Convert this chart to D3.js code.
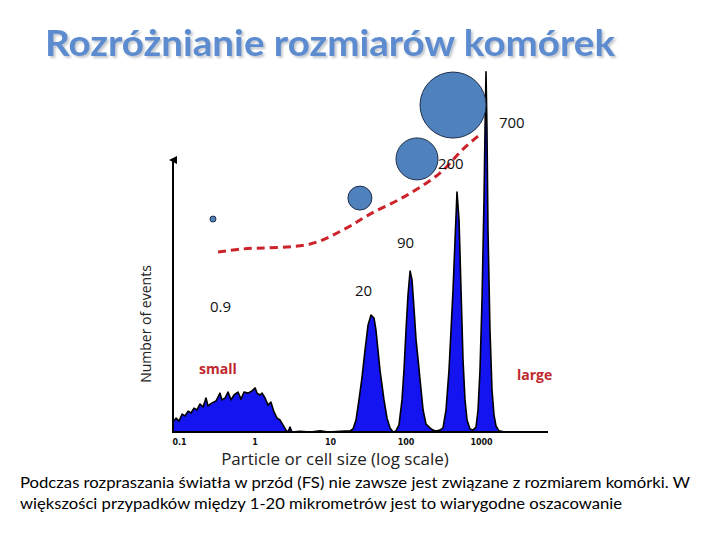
<!DOCTYPE html>
<html>
<head>
<meta charset="utf-8">
<script src="https://cdn.jsdelivr.net/npm/d3@7"></script>
<style>
  body { margin: 0; background: #fff; }
  svg { display: block; }
</style>
</head>
<body>
<svg></svg>
<script>
const width = 720, height = 540;

// histogram outline: particle size (log axis) and number of events
const sizes = [0.0833, 0.0913, 0.1, 0.11, 0.12, 0.132, 0.144, 0.158, 0.173, 0.19, 0.208, 0.228, 0.242,
  0.274, 0.309, 0.349, 0.371, 0.407, 0.446, 0.488, 0.535, 0.604, 0.663, 0.726, 0.82, 0.926, 1.02,
  1.08, 1.18, 1.26, 1.38, 1.51, 1.65, 1.81, 1.99, 2.18, 2.38, 2.61, 2.78, 2.95, 3.14,
  4.0, 5.5, 7.4, 9.5, 13.6,
  18.4, 20.2, 22.1, 24.2, 26.5, 29.1, 31.9, 34.9, 38.3, 40.6, 43.2, 45.9, 48.8, 51.9, 56.9, 62.4, 68.3,
  74.8, 82, 89.9, 95.5, 101.6, 108, 115, 122, 130, 138, 147, 156, 171, 187, 211, 231, 254, 286,
  314, 344, 377, 401, 426, 453, 481, 512, 544, 578, 614, 653, 715, 784,
  859, 913, 970, 1031, 1096, 1130, 1165, 1200, 1238, 1315, 1399, 1486, 1580, 1730, 2080, 7710];
const counts = [3.7, 5.1, 4.0, 6.6, 5.9, 7.7, 7.0, 8.8, 8.1, 10.3, 9.2, 12.5, 9.6,
  10.7, 11.4, 14.3, 11.8, 12.5, 14.7, 11.8, 13.6, 14.7, 12.1, 14.7, 14.3, 15.1, 16.2,
  14.3, 13.6, 14.3, 12.5, 9.9, 11.0, 7.4, 5.1, 4.4, 2.6, 0.7, 0, 1.8, 0,
  0.3, 0, 0.4, 0, 0.3,
  0.4, 1.1, 4.4, 11.8, 19.9, 30.1, 39.3, 43.0, 41.9, 37.5, 30.1, 22.8, 17.3, 11.8, 5.1, 1.5, 0,
  0.4, 2.6, 11.8, 22.8, 37.5, 50.4, 59.2, 55.9, 44.9, 33.8, 26.5, 19.1, 8.1, 2.9, 1.5, 0.7, 0.4, 0.7,
  1.5, 8.1, 22.8, 37.5, 52.2, 70.6, 88.2, 77.9, 52.2, 26.5, 11.8, 4.4, 1.1, 0.7,
  1.8, 8.1, 22.8, 48.5, 85.3, 111, 132.4, 111, 74.3, 37.5, 15.4, 6.3, 2.2, 0.4, 0, 0];

// tick labels
const tickValues = [0.1, 1, 10, 100, 1000];
const tickLabels = ["0.1", "1", "10", "100", "1000"];

// cell icons (size, count) and relative diameter
const cellSizes = [0.282, 24.9, 142, 426];
const cellCounts = [78.3, 86.0, 100.4, 120.2];
const cellDiameters = [1, 4, 7, 11];

// red dashed trend
const trendSizes = [0.329, 0.704, 5.43, 14.9, 33.9, 105, 286, 578, 913];
const trendCounts = [66.2, 67.3, 69.1, 74.3, 80.1, 87.1, 95.2, 104.0, 108.8];

// annotations
const noteTexts = ["700", "200", "90", "20", "0.9", "small", "large"];
const noteSizes = [1730, 269, 77.1, 21.4, 0.257, 0.184, 3000];
const noteCounts = [113.6, 98.5, 69.5, 51.8, 46.0, 23.2, 21.0];
const noteRed = [false, false, false, false, false, true, true];

const svg = d3.select("svg").attr("width", width).attr("height", height)
  .attr("viewBox", [0, 0, width, height]);

const x = d3.scaleLog().domain([0.1, 1000]).range([179, 481]);
const y = d3.scaleLinear().domain([0, 100]).range([432, 160]);
const r = d3.scaleLinear().domain([0, 1]).range([0, 3]);

const hist = sizes.map((s, i) => ({ s, c: counts[i] }));

const defs = svg.append("defs");

// soft shadow for the title
const shadow = defs.append("filter").attr("id", "shadow")
  .attr("x", "-5%").attr("y", "-20%").attr("width", "110%").attr("height", "150%");
shadow.append("feDropShadow")
  .attr("dx", 2).attr("dy", 2).attr("stdDeviation", 1)
  .attr("flood-color", "#9aa3ad").attr("flood-opacity", 0.6);

svg.append("text")
  .attr("x", 45).attr("y", 56)
  .attr("textLength", 570).attr("lengthAdjust", "spacingAndGlyphs")
  .attr("filter", "url(#shadow)")
  .style("font-family", "Lato, 'Open Sans', sans-serif")
  .style("font-weight", "bold").style("font-size", "36px")
  .attr("fill", "#5b8bd0")
  .text("Rozróżnianie rozmiarów komórek");

// histogram
const area = d3.area()
  .x(d => x(d.s))
  .y0(y(0))
  .y1(d => y(d.c));
const line = d3.line()
  .x(d => x(d.s))
  .y(d => y(d.c));

svg.append("path")
  .attr("fill", "#1414f0")
  .attr("d", area(hist));
svg.append("path")
  .attr("fill", "none")
  .attr("stroke", "#000")
  .attr("stroke-width", 1.6)
  .attr("stroke-linejoin", "round")
  .attr("d", line(hist));

// axes
const xExt = d3.extent(sizes);
svg.append("line")
  .attr("x1", x(xExt[0])).attr("x2", x(xExt[1]))
  .attr("y1", y(0)).attr("y2", y(0))
  .attr("stroke", "#000").attr("stroke-width", 2);

defs.append("marker")
  .attr("id", "arrow")
  .attr("viewBox", "0 0 10 10")
  .attr("refX", 5).attr("refY", 5)
  .attr("markerWidth", 4).attr("markerHeight", 5)
  .attr("orient", "auto")
  .append("path")
  .attr("d", "M0,10 L5,0 L10,10 Z")
  .attr("fill", "#000");

svg.append("line")
  .attr("x1", x(xExt[0])).attr("x2", x(xExt[0]))
  .attr("y1", y(0) + 1).attr("y2", y(100))
  .attr("stroke", "#000").attr("stroke-width", 2)
  .attr("marker-end", "url(#arrow)");

const xAxis = svg.append("g")
  .attr("transform", `translate(0, ${y(0)})`)
  .call(d3.axisBottom(x).tickValues(tickValues).tickSize(0)
    .tickFormat((d, i) => tickLabels[i]));
xAxis.select(".domain").remove();
xAxis.selectAll("text")
  .attr("dy", "0.71em").attr("y", 7)
  .style("font-family", "'DejaVu Sans', sans-serif")
  .style("font-size", "8px").style("font-weight", "bold")
  .attr("fill", "#111");

// trend line
svg.append("path")
  .attr("fill", "none")
  .attr("stroke", "#cc2229")
  .attr("stroke-width", 3)
  .attr("stroke-dasharray", "8,5")
  .attr("d", d3.line().x((d, i) => x(trendSizes[i])).y((d, i) => y(trendCounts[i]))
    .curve(d3.curveCatmullRom)(trendSizes));

// cells
svg.selectAll("circle.cell")
  .data(cellSizes)
  .join("circle")
  .attr("class", "cell")
  .attr("cx", d => x(d))
  .attr("cy", (d, i) => y(cellCounts[i]))
  .attr("r", (d, i) => r(cellDiameters[i]))
  .attr("fill", "#4f81bd")
  .attr("stroke", "#1f2f4a")
  .attr("stroke-width", 1);

// annotations
svg.selectAll("text.note")
  .data(noteTexts)
  .join("text")
  .attr("class", "note")
  .attr("x", (d, i) => x(noteSizes[i]))
  .attr("y", (d, i) => y(noteCounts[i]))
  .attr("dy", "0.35em")
  .style("font-family", "'Open Sans', sans-serif")
  .style("font-size", (d, i) => noteRed[i] ? "14px" : "15px")
  .style("font-weight", (d, i) => noteRed[i] ? "bold" : "normal")
  .attr("fill", (d, i) => noteRed[i] ? "#c0282d" : "#111")
  .text(d => d);

// axis labels
svg.append("text")
  .attr("x", 335).attr("y", 465)
  .attr("text-anchor", "middle")
  .style("font-family", "'Open Sans', sans-serif")
  .style("font-size", "17px")
  .attr("fill", "#222")
  .text("Particle or cell size (log scale)");

svg.append("text")
  .attr("text-anchor", "middle")
  .attr("transform", "translate(151, 324) rotate(-90)")
  .style("font-family", "'Open Sans', sans-serif")
  .style("font-size", "14px")
  .attr("fill", "#222")
  .text("Number of events");

// caption
const caption = [
  "Podczas rozpraszania światła w przód (FS) nie zawsze jest związane z rozmiarem komórki. W",
  "większości przypadków między 1-20 mikrometrów jest to wiarygodne oszacowanie"
];
const captionWidths = [670, 602];
svg.selectAll("text.caption")
  .data(caption)
  .join("text")
  .attr("class", "caption")
  .attr("x", 20)
  .attr("y", (d, i) => 488 + i * 21)
  .attr("textLength", (d, i) => captionWidths[i])
  .attr("lengthAdjust", "spacingAndGlyphs")
  .style("font-family", "Lato, 'Open Sans', sans-serif")
  .style("font-size", "16px")
  .attr("fill", "#000")
  .text(d => d);
</script>
</body>
</html>
